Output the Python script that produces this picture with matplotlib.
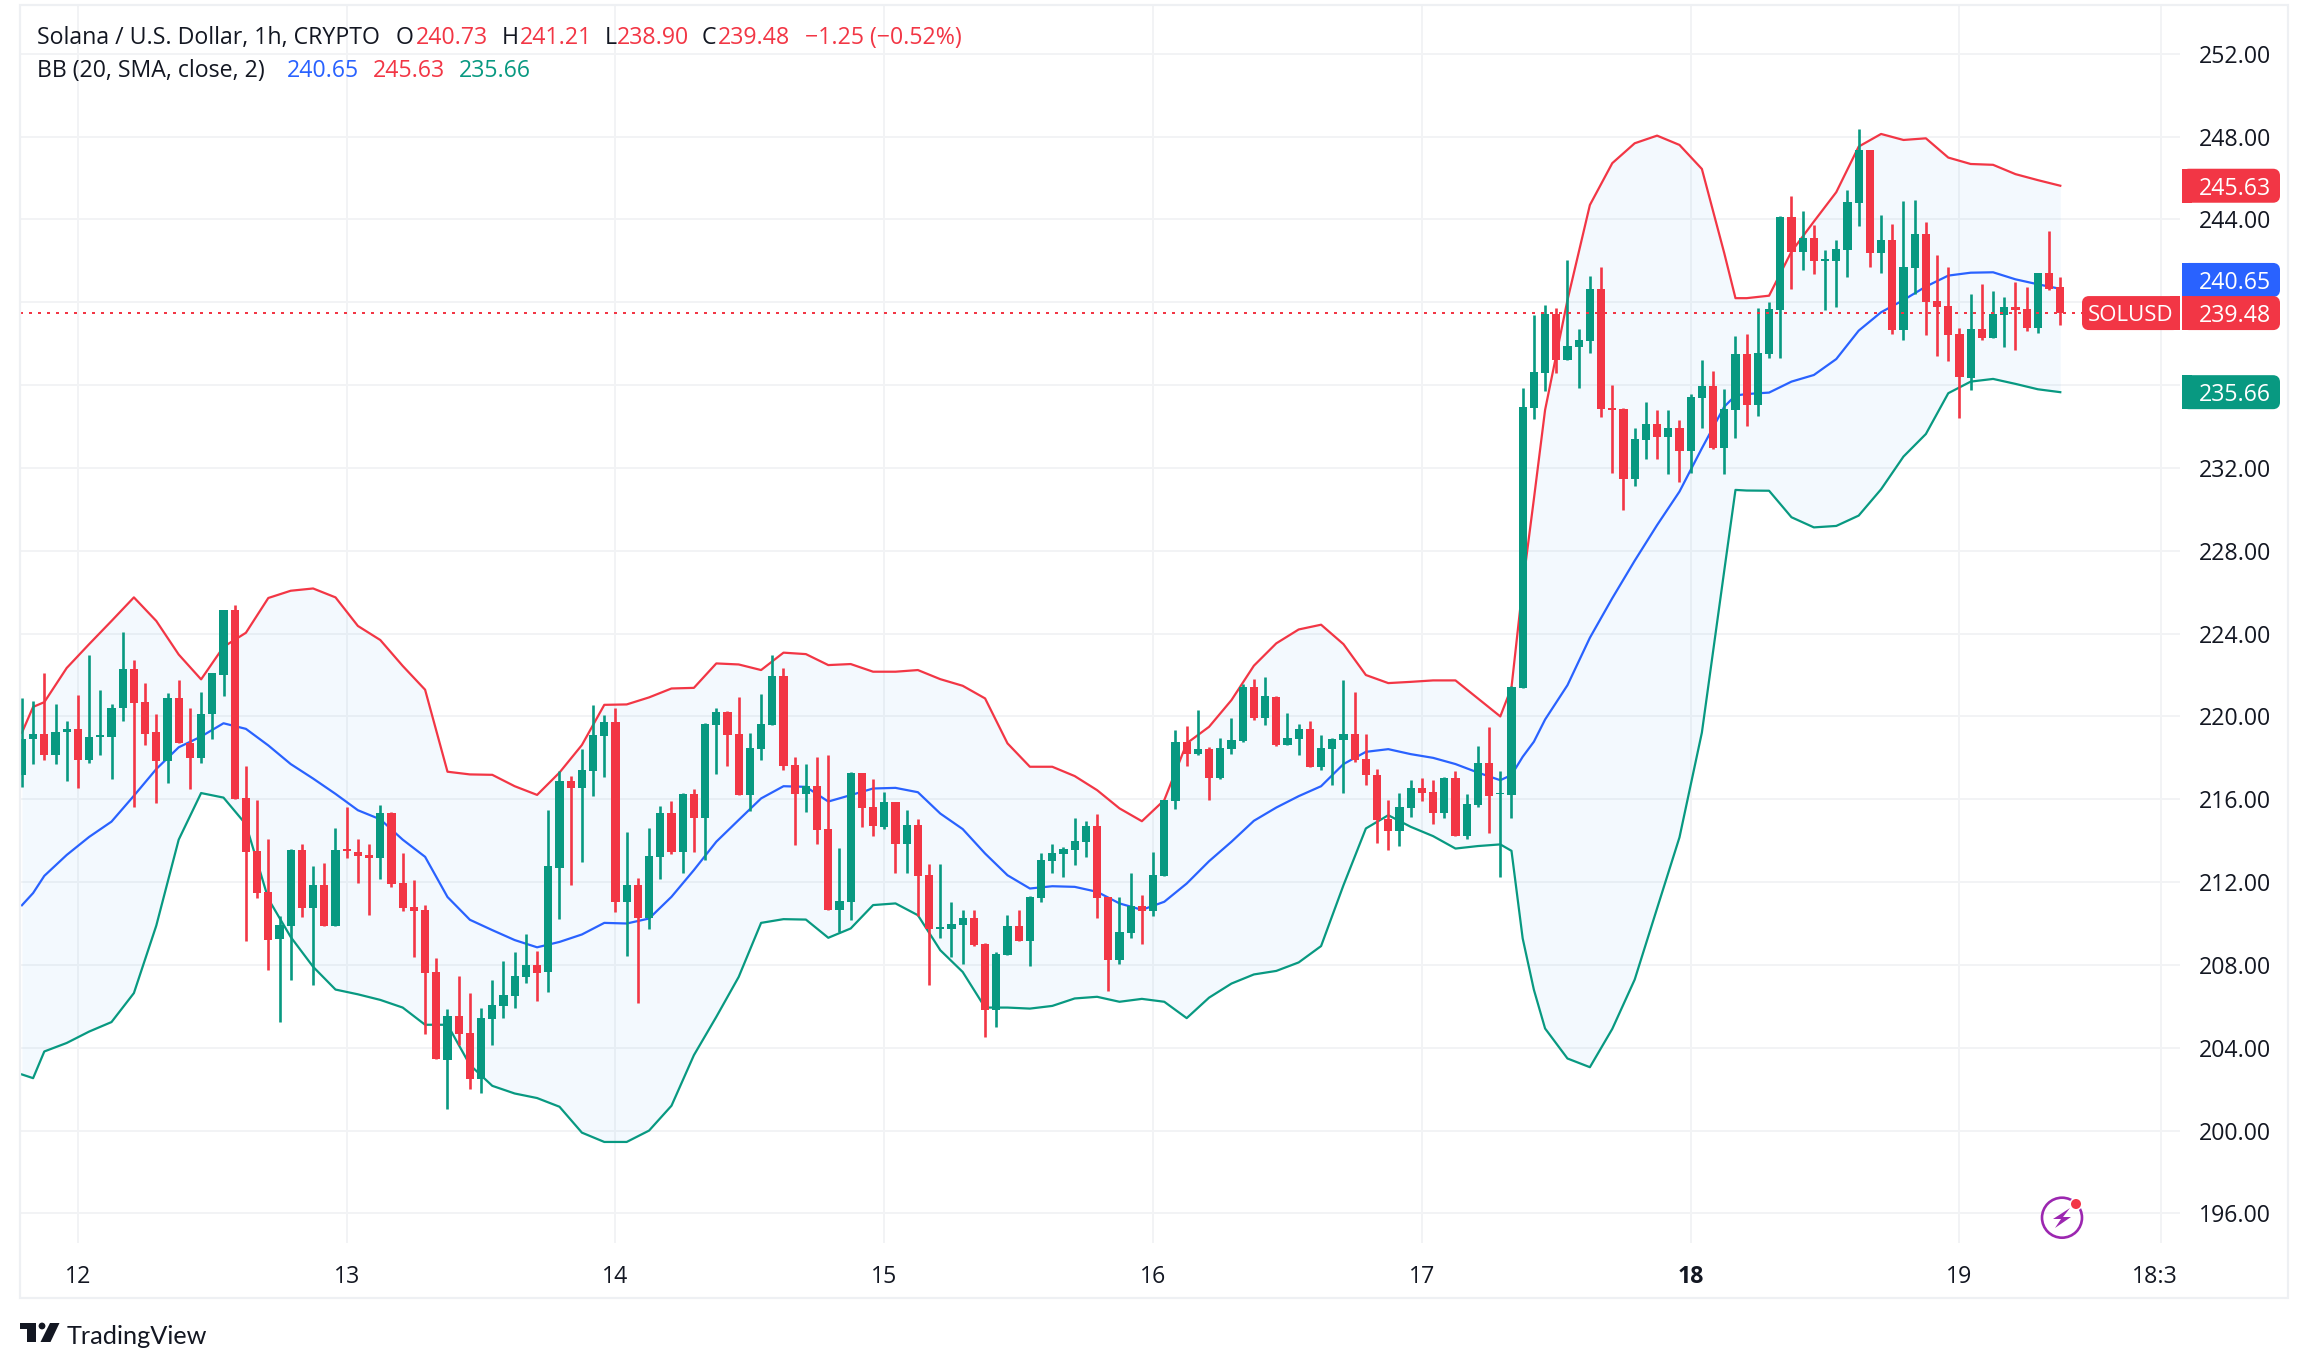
import numpy as np
from matplotlib import pyplot as plt
from matplotlib.patches import Circle, Rectangle, FancyBboxPatch, Polygon

plt.rcParams['font.family'] = ['Open Sans', 'DejaVu Sans']

# hourly candles, bar 0 is 5 hours before the 12th
opens = [217.17, 218.93, 219.16, 218.16, 219.23, 219.41, 217.92, 219.03, 219.03, 220.39,
         222.31, 220.72, 219.23, 217.83, 220.91, 218.73, 217.98, 220.10, 222.01, 225.15,
         216.04, 213.50, 211.51, 209.26, 209.88, 213.53, 210.75, 211.86, 209.88, 213.59,
         213.44, 213.29, 213.15, 215.32, 211.95, 210.79, 210.64, 207.65, 203.41, 205.53,
         204.72, 202.51, 205.40, 206.03, 206.51, 207.41, 208.00, 207.65, 212.69, 216.88,
         216.55, 217.36, 219.05, 219.73, 211.03, 211.85, 210.26, 213.20, 215.33, 213.45,
         216.25, 215.09, 219.58, 220.21, 219.15, 216.20, 218.42, 219.58, 221.95, 217.65,
         216.25, 216.63, 214.56, 210.64, 211.03, 217.26, 215.62, 214.65, 215.86, 213.83,
         214.75, 212.34, 209.73, 209.73, 209.92, 210.26, 209.00, 205.81, 208.47, 209.87,
         209.15, 211.22, 213.01, 213.35, 213.54, 213.93, 214.70, 211.27, 208.23, 209.53,
         210.84, 210.60, 212.29, 215.91, 218.76, 218.18, 218.42, 217.02, 218.42, 218.81,
         221.42, 219.92, 220.93, 218.62, 218.90, 219.39, 217.55, 218.42, 218.86, 219.15,
         217.94, 217.17, 215.04, 214.46, 215.57, 216.54, 216.34, 215.33, 217.02, 214.22,
         215.72, 217.75, 216.23, 216.20, 221.37, 234.90, 236.59, 239.44, 237.22, 237.84,
         238.13, 240.65, 234.90, 234.85, 231.47, 233.35, 234.12, 233.50, 233.93, 232.82,
         235.38, 235.96, 232.96, 234.80, 237.51, 235.04, 237.51, 239.63, 244.12, 242.43,
         243.11, 242.00, 242.00, 242.53, 244.80, 247.36, 242.38, 243.01, 238.66, 241.66,
         243.30, 240.07, 239.82, 238.47, 236.35, 238.71, 238.28, 239.39, 239.78, 239.68,
         238.76, 241.42, 240.73]
highs = [220.91, 220.76, 222.11, 220.58, 219.80, 221.05, 222.97, 221.29, 220.58, 224.10,
         222.73, 221.63, 220.13, 221.11, 221.74, 220.43, 221.20, 222.09, 225.15, 225.39,
         217.59, 215.95, 214.07, 210.36, 213.59, 213.83, 212.76, 212.91, 214.60, 215.62,
         214.07, 213.83, 215.71, 215.38, 213.39, 212.10, 210.90, 208.34, 205.88, 207.47,
         206.66, 205.92, 207.28, 208.19, 208.63, 209.50, 208.67, 215.47, 217.36, 217.12,
         218.42, 220.55, 220.06, 220.39, 214.41, 212.19, 214.61, 215.67, 215.91, 216.30,
         216.49, 219.68, 220.40, 220.26, 220.93, 219.19, 221.08, 222.96, 222.34, 218.04,
         217.70, 218.04, 218.13, 213.64, 217.31, 217.26, 216.97, 216.34, 215.86, 215.48,
         215.04, 212.87, 212.87, 211.03, 210.64, 210.64, 209.05, 208.62, 210.40, 210.64,
         211.32, 213.40, 213.83, 213.69, 215.09, 214.94, 215.28, 211.27, 211.27, 212.43,
         211.37, 213.45, 215.96, 219.34, 219.53, 220.31, 218.52, 218.95, 219.92, 221.59,
         221.80, 221.90, 220.98, 220.16, 219.63, 219.77, 219.10, 218.95, 221.75, 221.18,
         219.15, 217.46, 215.96, 216.30, 216.92, 217.02, 216.92, 217.07, 217.36, 216.25,
         218.57, 219.48, 217.36, 221.47, 235.86, 239.39, 239.87, 239.73, 242.05, 238.71,
         241.27, 241.71, 236.01, 234.90, 233.93, 235.19, 234.80, 234.80, 234.32, 235.57,
         237.22, 236.68, 235.81, 238.38, 238.47, 239.73, 240.02, 244.17, 245.14, 244.41,
         243.74, 242.53, 243.01, 245.43, 248.38, 247.36, 244.22, 243.79, 244.90, 244.94,
         243.88, 242.29, 241.71, 238.76, 240.40, 240.89, 240.55, 240.26, 240.98, 240.74,
         241.42, 243.45, 241.21]
lows = [216.58, 217.70, 217.92, 217.70, 216.87, 216.52, 217.77, 218.12, 216.96, 219.80,
        215.65, 218.64, 215.80, 216.78, 218.70, 216.48, 217.74, 218.93, 221.00, 216.00,
        209.15, 211.23, 207.76, 205.26, 207.28, 210.31, 207.03, 209.88, 209.88, 213.15,
        211.95, 210.40, 212.13, 211.75, 210.60, 208.39, 204.67, 203.47, 201.05, 204.15,
        202.03, 201.79, 204.15, 205.44, 205.92, 207.14, 206.27, 206.70, 210.21, 211.85,
        212.96, 216.15, 217.07, 210.55, 208.42, 206.15, 209.73, 212.14, 213.35, 212.43,
        213.45, 213.06, 217.21, 217.60, 216.20, 215.43, 217.89, 219.58, 217.41, 213.78,
        215.38, 213.83, 210.64, 209.58, 210.16, 214.65, 214.22, 214.56, 212.43, 212.43,
        210.35, 207.02, 209.29, 208.37, 208.04, 208.90, 204.51, 204.99, 208.47, 209.15,
        207.94, 211.03, 212.43, 212.24, 212.82, 213.20, 210.26, 206.73, 208.04, 209.29,
        209.00, 210.35, 212.29, 215.52, 217.60, 218.13, 215.96, 216.97, 218.18, 218.76,
        219.82, 219.58, 218.57, 218.62, 218.13, 217.55, 217.41, 216.68, 216.30, 217.79,
        216.68, 213.88, 213.54, 213.74, 215.14, 215.91, 214.80, 215.09, 214.22, 214.07,
        215.62, 214.36, 212.24, 215.09, 221.37, 234.37, 235.72, 236.59, 237.22, 235.86,
        237.55, 234.46, 231.76, 229.97, 231.13, 232.43, 232.43, 231.71, 231.32, 231.76,
        233.93, 232.92, 231.71, 233.45, 234.03, 234.51, 237.31, 237.31, 240.65, 241.56,
        241.37, 239.63, 239.78, 241.22, 243.69, 241.71, 241.42, 238.47, 238.18, 240.40,
        238.42, 237.41, 237.17, 234.41, 235.77, 238.18, 238.28, 237.84, 237.70, 238.62,
        238.52, 240.60, 238.90]
closes = [218.93, 219.16, 218.16, 219.27, 219.41, 217.92, 219.03, 219.12, 220.43, 222.31,
          220.67, 219.17, 217.83, 220.91, 218.70, 217.98, 220.13, 222.09, 225.15, 216.00,
          213.44, 211.47, 209.20, 209.92, 213.53, 210.75, 211.86, 209.88, 213.53, 213.50,
          213.26, 213.15, 215.32, 211.89, 210.75, 210.60, 207.62, 203.47, 205.53, 204.67,
          202.51, 205.44, 206.07, 206.55, 207.47, 208.00, 207.62, 212.76, 216.88, 216.55,
          217.41, 219.10, 219.73, 211.03, 211.85, 210.26, 213.25, 215.33, 213.45, 216.25,
          215.09, 219.63, 220.21, 219.10, 216.20, 218.47, 219.63, 221.95, 217.60, 216.25,
          216.63, 214.51, 210.64, 211.08, 217.26, 215.57, 214.70, 215.86, 213.83, 214.75,
          212.29, 209.73, 209.82, 209.97, 210.26, 208.95, 205.81, 208.52, 209.87, 209.15,
          211.27, 213.06, 213.40, 213.59, 213.98, 214.70, 211.22, 208.23, 209.58, 210.84,
          210.60, 212.34, 215.96, 218.76, 218.18, 218.42, 217.02, 218.47, 218.86, 221.42,
          219.92, 220.98, 218.62, 218.95, 219.39, 217.55, 218.47, 218.90, 219.15, 217.89,
          217.17, 214.99, 214.46, 215.62, 216.54, 216.30, 215.33, 217.02, 214.22, 215.77,
          217.75, 216.15, 216.30, 221.42, 234.95, 236.64, 239.44, 237.22, 237.89, 238.18,
          240.65, 234.85, 234.80, 231.47, 233.40, 234.12, 233.50, 233.93, 232.82, 235.43,
          235.96, 232.96, 234.85, 237.51, 235.04, 237.55, 239.68, 244.12, 242.43, 243.11,
          242.00, 242.09, 242.58, 244.85, 247.36, 242.38, 243.01, 238.66, 241.71, 243.30,
          240.02, 239.78, 238.42, 236.39, 238.71, 238.28, 239.44, 239.78, 239.63, 238.76,
          241.42, 240.65, 239.48]

# Bollinger band vertices, read at these bars
band_bars = [0, 1, 2, 4, 6, 8, 10, 12, 14, 16, 18, 20, 22, 24, 26, 28, 30, 32, 34, 36,
             38, 40, 42, 44, 46, 48, 50, 52, 54, 56, 58, 60, 62, 64, 66, 68, 70, 72, 74, 76,
             78, 80, 82, 84, 86, 88, 90, 92, 94, 96, 98, 100, 102, 104, 106, 108, 110, 112, 114, 116,
             118, 120, 122, 124, 126, 128, 130, 132, 133, 134, 135, 136, 138, 140, 142, 144, 146, 148, 150, 152,
             153, 154, 156, 158, 160, 162, 164, 166, 168, 170, 172, 174, 176, 178, 180, 182]
bb_upper = [219.21, 220.46, 220.69, 222.34, 223.49, 224.61, 225.75, 224.61, 222.99, 221.79,
            223.36, 224.04, 225.72, 226.07, 226.18, 225.75, 224.37, 223.69, 222.44, 221.29,
            217.33, 217.20, 217.18, 216.63, 216.21, 217.29, 218.62, 220.56, 220.58, 220.92,
            221.35, 221.38, 222.56, 222.51, 222.24, 223.08, 223.01, 222.48, 222.53, 222.16,
            222.16, 222.24, 221.80, 221.48, 220.87, 218.70, 217.57, 217.57, 217.12, 216.44,
            215.56, 214.94, 215.96, 218.70, 219.50, 220.79, 222.45, 223.53, 224.20, 224.43,
            223.49, 222.00, 221.61, 221.67, 221.74, 221.74, 220.87, 220.00, 221.40, 226.30,
            230.50, 234.80, 240.11, 244.70, 246.72, 247.68, 248.05, 247.60, 246.44, 242.37,
            240.20, 240.20, 240.32, 242.45, 243.90, 245.32, 247.52, 248.13, 247.84, 247.92,
            246.99, 246.68, 246.64, 246.19, 245.90, 245.63]
bb_basis = [210.88, 211.47, 212.30, 213.31, 214.18, 214.92, 216.17, 217.46, 218.51, 219.03,
            219.67, 219.40, 218.60, 217.70, 217.00, 216.26, 215.47, 215.03, 214.05, 213.22,
            211.28, 210.18, 209.68, 209.20, 208.85, 209.11, 209.47, 210.03, 210.00, 210.24,
            211.29, 212.58, 213.95, 215.00, 216.04, 216.63, 216.60, 215.89, 216.20, 216.52,
            216.55, 216.34, 215.31, 214.56, 213.38, 212.33, 211.69, 211.80, 211.77, 211.53,
            210.97, 210.66, 211.05, 211.93, 213.01, 213.95, 214.96, 215.60, 216.15, 216.63,
            217.70, 218.29, 218.42, 218.18, 218.00, 217.70, 217.29, 216.92, 217.17, 218.05,
            218.78, 219.85, 221.51, 223.80, 225.71, 227.52, 229.24, 230.86, 232.95, 234.96,
            235.50, 235.57, 235.64, 236.17, 236.49, 237.26, 238.63, 239.52, 240.11, 240.76,
            241.29, 241.43, 241.45, 241.11, 240.87, 240.65]
bb_lower = [202.71, 202.53, 203.82, 204.23, 204.78, 205.24, 206.64, 209.90, 214.05, 216.30,
            216.08, 214.79, 211.19, 209.35, 207.91, 206.81, 206.58, 206.31, 205.94, 205.11,
            205.11, 203.17, 202.16, 201.79, 201.57, 201.15, 199.90, 199.45, 199.45, 200.00,
            201.20, 203.64, 205.49, 207.42, 210.03, 210.21, 210.19, 209.31, 209.76, 210.89,
            210.97, 210.40, 208.71, 207.66, 205.94, 205.94, 205.89, 206.02, 206.38, 206.46,
            206.22, 206.36, 206.22, 205.43, 206.42, 207.10, 207.54, 207.71, 208.12, 208.91,
            211.85, 214.59, 215.23, 214.67, 214.22, 213.62, 213.74, 213.82, 213.51, 209.28,
            206.80, 204.93, 203.48, 203.06, 204.91, 207.29, 210.73, 214.16, 219.22, 227.05,
            230.94, 230.91, 230.90, 229.62, 229.13, 229.20, 229.70, 230.97, 232.55, 233.64,
            235.61, 236.17, 236.30, 236.06, 235.80, 235.66]

price_ticks = [196, 200, 204, 208, 212, 216, 220, 224, 228, 232, 236, 240, 244, 248, 252]
hidden_ticks = [236, 240]  # covered by the price labels
day_bars = [5, 29, 53, 77, 101, 125, 149, 173]
day_labels = ['12', '13', '14', '15', '16', '17', '18', '19']
time_bar = 191
time_label = '18:3'
last_price = closes[-1]

GREEN = '#089981'
RED = '#F23645'
BLUE = '#2962FF'
INK = '#131722'
GRID = '#F2F3F5'
FRAME = '#EEF0F3'
W, H = 2308, 1369
FS = 16.7

fig = plt.figure(figsize=(W / 100, H / 100), dpi=100, facecolor='white')
ax = fig.add_axes([20 / W, 1 - 1243 / H, 2160 / W, 1237 / H])
ax.set_xlim(-0.17, 192.69)
ax.set_ylim(194.57, 254.31)
for spine in ax.spines.values():
    spine.set_visible(False)

ax.set_axisbelow(True)
ax.grid(True, color=GRID, linewidth=1.44)
ax.yaxis.tick_right()
ax.set_yticks(price_ticks)
ax.set_yticklabels(['' if p in hidden_ticks else f'{p:.2f}' for p in price_ticks])
ax.set_xticks(day_bars + [time_bar])
ax.set_xticklabels(day_labels + [''])
ax.tick_params(axis='both', length=0, labelsize=FS, labelcolor=INK)
ax.tick_params(axis='y', pad=13.7)
ax.tick_params(axis='x', pad=15.5)
ax.get_xticklabels()[day_labels.index('18')].set_fontweight('bold')
ax.annotate(time_label, (time_bar, 0), xycoords=ax.get_xaxis_transform(), xytext=(-4.3, -15.5),
            textcoords='offset points', ha='center', va='top', fontsize=FS, color=INK)

ax.fill_between(band_bars, bb_lower, bb_upper, color='#2196F3', alpha=0.05, linewidth=0, zorder=1)
ax.plot(band_bars, bb_upper, color=RED, linewidth=1.6, zorder=2)
ax.plot(band_bars, bb_basis, color=BLUE, linewidth=1.6, zorder=2)
ax.plot(band_bars, bb_lower, color=GREEN, linewidth=1.6, zorder=2)

bars = np.arange(len(closes))
o, h, l, c = map(np.array, (opens, highs, lows, closes))
colors = np.where(c >= o, GREEN, RED)
ax.vlines(bars, l, h, colors=colors, linewidth=1.9, capstyle='butt', zorder=3)
ax.bar(bars, np.abs(c - o), bottom=np.minimum(o, c), width=0.72, color=colors, linewidth=0, zorder=3)

# last price line stops where the symbol label starts
ax.plot([ax.get_xlim()[0], 5 + (2082 - 77.9) / 11.2], [last_price, last_price], color=RED,
        linewidth=1.44, linestyle=(0, (1.5, 3)), zorder=4)

# overlay in image pixels for labels and logos
over = fig.add_axes([0, 0, 1, 1], facecolor='none')
over.set_xlim(0, W)
over.set_ylim(H, 0)
over.axis('off')
over.add_patch(Rectangle((20, 5), 2268, 1293, fill=False, edgecolor=FRAME, linewidth=1.6))


def price_y(value):
    return H - ax.transData.transform((0, value))[1]


def price_label(value, color, shift=0):
    y = price_y(value) + shift
    over.add_patch(FancyBboxPatch((2185, y - 14), 92, 28, boxstyle='round,pad=0,rounding_size=4',
                                  mutation_aspect=1, facecolor=color, edgecolor=color, linewidth=6 * 0.72))
    over.add_patch(Rectangle((2182, y - 17), 10, 34, facecolor=color, linewidth=0))
    over.text(2199, y, f'{value:.2f}', color='white', fontsize=FS, va='center_baseline', ha='left')


price_label(bb_upper[-1], RED)
price_label(bb_basis[-1], BLUE, shift=-8.9)
price_label(bb_lower[-1], GREEN)
price_label(last_price, RED)

y = price_y(last_price)
over.add_patch(FancyBboxPatch((2085, y - 14), 92, 28, boxstyle='round,pad=0,rounding_size=4',
                              facecolor=RED, edgecolor=RED, linewidth=6 * 0.72))
over.add_patch(Rectangle((2170, y - 17), 10, 34, facecolor=RED, linewidth=0))
over.text(2131, y, 'SOLUSD', color='white', fontsize=FS - 0.7, va='center_baseline', ha='center')

# legend rows
row1 = [(37, 'Solana / U.S. Dollar, 1h, CRYPTO', INK), (396, 'O', INK), (416, '240.73', RED),
        (502, 'H', INK), (520, '241.21', RED), (605, 'L', INK), (617, '238.90', RED),
        (702, 'C', INK), (718, '239.48', RED), (805, '\u22121.25 (\u22120.52%)', RED)]
row2 = [(37, 'BB (20, SMA, close, 2)', INK), (287, '240.65', BLUE), (373, '245.63', RED), (459, '235.66', GREEN)]
for x, s, col in row1:
    over.text(x, 38, s, color=col, fontsize=FS, va='center', ha='left')
for x, s, col in row2:
    over.text(x, 71, s, color=col, fontsize=FS, va='center', ha='left')

# TradingView logo
LOGO = '#131722'
over.add_patch(Polygon([(20, 1323), (36, 1323), (36, 1342), (27, 1342), (27, 1329), (20, 1329)], facecolor=LOGO, linewidth=0))
over.add_patch(Circle((42, 1326), 3.4, facecolor=LOGO, linewidth=0))
over.add_patch(Polygon([(50, 1323), (59.5, 1323), (50.5, 1342), (40.5, 1342)], facecolor=LOGO, linewidth=0))
over.text(67, 1336, 'TradingView', family=['Lato', 'DejaVu Sans'], color=INK, fontsize=18.2, va='center', ha='left')

# lightning badge
PURPLE = '#9C27B0'
over.add_patch(Circle((2062, 1217.7), 20, fill=False, edgecolor=PURPLE, linewidth=1.9))
over.add_patch(Polygon([(2070, 1208), (2053, 1219), (2061, 1219), (2055, 1228), (2071, 1217), (2063, 1217)],
                       facecolor=PURPLE, linewidth=0))
over.add_patch(Circle((2076, 1204), 6.5, facecolor='white', linewidth=0))
over.add_patch(Circle((2076, 1204), 5, facecolor=RED, linewidth=0))

fig.savefig('out.png', dpi=100)
